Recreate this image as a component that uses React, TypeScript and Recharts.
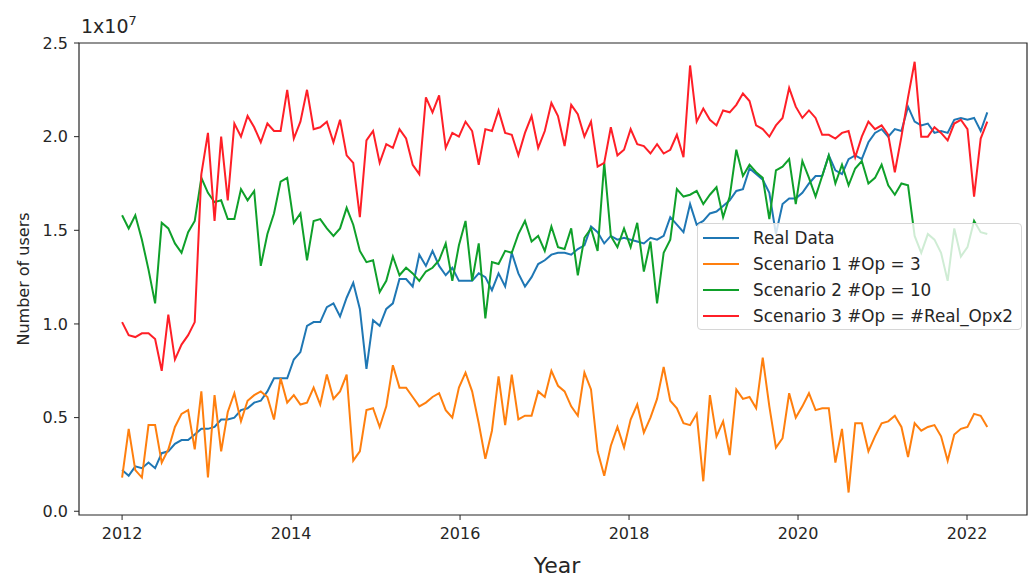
import { Line, LineChart, ReferenceArea, XAxis, YAxis, Label } from 'recharts'

// user counts in units of 1e7, one value per sample
const realData = [
    0.22, 0.19, 0.24, 0.23, 0.26, 0.23, 0.31, 0.32, 0.36, 0.38, 0.38, 0.41, 0.44, 0.44, 0.45, 0.49, 0.49, 0.5, 0.54, 0.55,
    0.58, 0.59, 0.64, 0.71, 0.71, 0.71, 0.81, 0.85, 0.99, 1.01, 1.01, 1.09, 1.11, 1.04, 1.14, 1.22, 1.08, 0.76, 1.02, 0.99,
    1.08, 1.11, 1.24, 1.24, 1.2, 1.37, 1.31, 1.39, 1.31, 1.26, 1.3, 1.23, 1.23, 1.23, 1.27, 1.25, 1.18, 1.27, 1.2, 1.38,
    1.27, 1.2, 1.25, 1.32, 1.34, 1.37, 1.38, 1.38, 1.37, 1.4, 1.42, 1.52, 1.49, 1.43, 1.47, 1.45, 1.46, 1.45, 1.44, 1.43,
    1.46, 1.45, 1.47, 1.57, 1.53, 1.49, 1.64, 1.53, 1.55, 1.59, 1.6, 1.63, 1.66, 1.71, 1.72, 1.83, 1.8, 1.77, 1.7, 1.48,
    1.64, 1.67, 1.67, 1.7, 1.75, 1.79, 1.79, 1.9, 1.82, 1.8, 1.88, 1.9, 1.88, 1.97, 2.02, 2.04, 2.0, 2.04, 2.03, 2.16,
    2.08, 2.06, 2.07, 2.02, 2.03, 2.02, 2.09, 2.1, 2.09, 2.1, 2.03, 2.13,
]
const scenario1 = [
    0.18, 0.44, 0.22, 0.18, 0.46, 0.46, 0.26, 0.33, 0.45, 0.52, 0.54, 0.33, 0.64, 0.18, 0.62, 0.32, 0.53, 0.63, 0.48, 0.59,
    0.62, 0.64, 0.61, 0.49, 0.71, 0.58, 0.62, 0.57, 0.58, 0.66, 0.57, 0.73, 0.6, 0.64, 0.73, 0.27, 0.32, 0.54, 0.55, 0.45,
    0.56, 0.78, 0.66, 0.66, 0.61, 0.56, 0.58, 0.61, 0.63, 0.54, 0.5, 0.66, 0.74, 0.64, 0.47, 0.28, 0.43, 0.72, 0.46, 0.73,
    0.49, 0.51, 0.51, 0.64, 0.61, 0.75, 0.67, 0.64, 0.56, 0.51, 0.74, 0.65, 0.32, 0.19, 0.35, 0.45, 0.34, 0.49, 0.57, 0.42,
    0.5, 0.6, 0.77, 0.59, 0.55, 0.47, 0.46, 0.52, 0.16, 0.62, 0.4, 0.48, 0.3, 0.65, 0.6, 0.61, 0.55, 0.82, 0.56, 0.34,
    0.39, 0.63, 0.5, 0.56, 0.63, 0.54, 0.55, 0.55, 0.26, 0.44, 0.1, 0.47, 0.47, 0.32, 0.4, 0.47, 0.48, 0.51, 0.45, 0.29,
    0.47, 0.43, 0.45, 0.46, 0.4, 0.27, 0.41, 0.44, 0.45, 0.52, 0.51, 0.45,
]
const scenario2 = [
    1.58, 1.51, 1.58, 1.45, 1.29, 1.11, 1.54, 1.51, 1.43, 1.38, 1.49, 1.55, 1.78, 1.7, 1.65, 1.66, 1.56, 1.56, 1.72, 1.66,
    1.71, 1.31, 1.48, 1.59, 1.76, 1.78, 1.54, 1.59, 1.34, 1.55, 1.56, 1.51, 1.47, 1.51, 1.62, 1.53, 1.39, 1.33, 1.34, 1.17,
    1.23, 1.36, 1.26, 1.3, 1.27, 1.23, 1.28, 1.3, 1.34, 1.43, 1.23, 1.42, 1.55, 1.23, 1.43, 1.03, 1.33, 1.32, 1.39, 1.38,
    1.48, 1.55, 1.44, 1.47, 1.39, 1.52, 1.41, 1.4, 1.51, 1.26, 1.46, 1.51, 1.39, 1.86, 1.47, 1.41, 1.51, 1.41, 1.54, 1.28,
    1.44, 1.11, 1.38, 1.45, 1.72, 1.68, 1.69, 1.71, 1.64, 1.69, 1.73, 1.57, 1.68, 1.93, 1.79, 1.85, 1.81, 1.78, 1.56, 1.82,
    1.84, 1.88, 1.64, 1.87, 1.78, 1.68, 1.79, 1.9, 1.75, 1.85, 1.74, 1.83, 1.87, 1.75, 1.78, 1.85, 1.74, 1.69, 1.75, 1.74,
    1.47, 1.38, 1.48, 1.45, 1.38, 1.23, 1.51, 1.36, 1.41, 1.55, 1.49, 1.48,
]
const scenario3 = [
    1.01, 0.94, 0.93, 0.95, 0.95, 0.92, 0.75, 1.05, 0.81, 0.89, 0.94, 1.01, 1.8, 2.02, 1.55, 2.0, 1.66, 2.07, 2.0, 2.11,
    2.05, 1.97, 2.07, 2.03, 2.03, 2.25, 1.99, 2.08, 2.25, 2.04, 2.05, 2.08, 1.97, 2.09, 1.9, 1.86, 1.57, 1.98, 2.03, 1.86,
    1.96, 1.94, 2.04, 1.99, 1.85, 1.8, 2.21, 2.13, 2.22, 1.94, 2.02, 2.0, 2.08, 2.03, 1.85, 2.04, 2.03, 2.14, 2.02, 2.01,
    1.9, 2.02, 2.11, 1.94, 2.03, 2.18, 2.11, 1.95, 2.17, 2.12, 2.0, 2.08, 1.84, 1.86, 2.05, 1.9, 1.93, 2.04, 1.96, 1.95,
    1.91, 1.96, 1.91, 1.93, 2.01, 1.89, 2.38, 2.08, 2.15, 2.09, 2.06, 2.14, 2.13, 2.17, 2.23, 2.19, 2.06, 2.04, 2.0, 2.06,
    2.1, 2.26, 2.16, 2.1, 2.14, 2.1, 2.01, 2.01, 1.99, 2.02, 2.03, 1.89, 2.0, 2.08, 2.04, 2.06, 2.01, 1.81, 2.0, 2.21,
    2.4, 2.0, 2.0, 2.05, 2.02, 1.98, 2.07, 2.09, 2.04, 1.68, 1.99, 2.08,
]

const yearTicks = [2012, 2014, 2016, 2018, 2020, 2022]
const userTicks = [0, 0.5, 1, 1.5, 2, 2.5]

// samples are evenly spaced between these two dates
const firstYear = 2012
const lastYear = 2022.24

const xDomain = [2011.49, 2022.71]
const yDomain = [-0.02, 2.5]

const series = [
    { key: 'real', name: 'Real Data', color: '#1f77b4', values: realData },
    { key: 's1', name: 'Scenario 1 #Op = 3', color: '#ff7f0e', values: scenario1 },
    { key: 's2', name: 'Scenario 2 #Op = 10', color: '#0fa02a', values: scenario2 },
    { key: 's3', name: 'Scenario 3 #Op = #Real_Opx2', color: '#ff1f27', values: scenario3 },
]

const data = realData.map((_, i) => {
    const row: Record<string, number> = {
        t: firstYear + (i * (lastYear - firstYear)) / (realData.length - 1),
    }
    series.forEach((s) => {
        row[s.key] = s.values[i]
    })
    return row
})

const font = '"DejaVu Sans", sans-serif'
const ink = '#262626'

const ChartLegend = () => (
    <div
        style={{
            position: 'absolute',
            left: 697,
            top: 223,
            width: 325,
            height: 107,
            boxSizing: 'border-box',
            background: 'rgba(255,255,255,0.8)',
            border: '1px solid #d6d6d6',
            borderRadius: 4,
            paddingTop: 1,
            fontFamily: font,
            fontSize: 16.8,
            color: ink,
            whiteSpace: 'nowrap',
        }}
    >
        {series.map((s) => (
            <div key={s.key} style={{ display: 'flex', alignItems: 'center', height: 26 }}>
                <span
                    style={{ display: 'inline-block', flexShrink: 0, width: 36, height: 2.5, background: s.color, marginLeft: 5, marginRight: 14 }}
                />
                <span>{s.name}</span>
            </div>
        ))}
    </div>
)

const App = () => {
    return (
        <div style={{ position: 'absolute', left: 0, top: 0, width: 1035, height: 579, background: '#fff', overflow: 'hidden' }}>
            <LineChart width={1035} height={579} data={data} margin={{ top: 43, right: 8, bottom: 0, left: 0 }}>
                <ReferenceArea x1={xDomain[0]} x2={xDomain[1]} y1={yDomain[0]} y2={yDomain[1]} fill="none" stroke={ink} strokeWidth={1.2} />
                <XAxis
                    dataKey="t"
                    type="number"
                    domain={xDomain}
                    ticks={yearTicks}
                    allowDataOverflow
                    height={64}
                    axisLine={false}
                    tickSize={5}
                    tickMargin={8}
                    tickLine={{ stroke: ink }}
                    tick={{ fill: ink, fontSize: 16, fontFamily: font }}
                >
                    <Label value="Year" position="insideBottom" offset={6} dx={4} style={{ fill: ink, fontSize: 22, fontFamily: font }} />
                </XAxis>
                <YAxis
                    type="number"
                    domain={yDomain}
                    ticks={userTicks}
                    allowDataOverflow
                    width={79}
                    axisLine={false}
                    tickSize={5}
                    tickMargin={6}
                    tickLine={{ stroke: ink }}
                    tickFormatter={(v: number) => v.toFixed(1)}
                    tick={{ fill: ink, fontSize: 16, fontFamily: font }}
                >
                    <Label value="Number of users" angle={-90} position="insideLeft" offset={23} style={{ textAnchor: 'middle', fill: ink, fontSize: 16, fontFamily: font }} />
                </YAxis>
                {series.map((s) => (
                    <Line key={s.key} dataKey={s.key} name={s.name} stroke={s.color} strokeWidth={2} dot={false} isAnimationActive={false} />
                ))}
            </LineChart>
            <div style={{ position: 'absolute', left: 81, top: 6, fontFamily: font, fontSize: 19, color: ink, lineHeight: '30px' }}>
                1x10<sup style={{ fontSize: 13, verticalAlign: 8 }}>7</sup>
            </div>
            <ChartLegend />
        </div>
    )
}

export default App
